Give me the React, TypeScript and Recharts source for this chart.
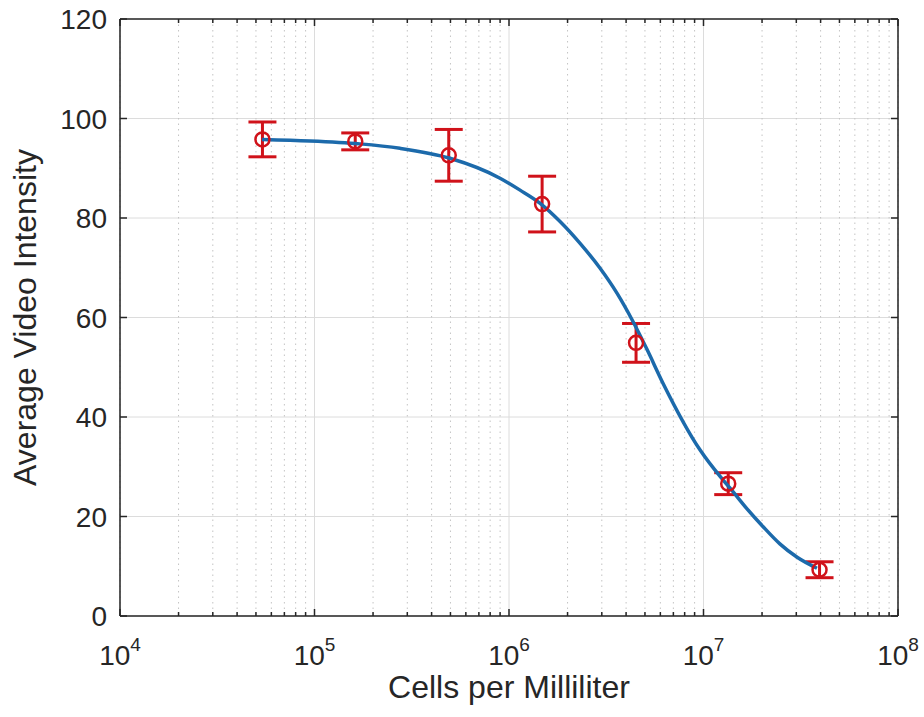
import React from "react";
import { CartesianGrid, ComposedChart, ErrorBar, Label, Line, Scatter, XAxis, YAxis } from "recharts";

// axis ticks
const xTicks = [1e4, 1e5, 1e6, 1e7, 1e8];
const minorSteps = [2, 3, 4, 5, 6, 7, 8, 9];
const xMinorTicks = xTicks.slice(0, -1).flatMap((decade) => minorSteps.map((m) => decade * m));
const yTicks = [0, 20, 40, 60, 80, 100, 120];

// measured points with error bars
const cellCounts = [5.4e4, 1.62e5, 4.9e5, 1.48e6, 4.5e6, 1.34e7, 3.95e7];
const meanIntensity = [95.8, 95.4, 92.6, 82.8, 54.9, 26.6, 9.3];
const intensityError = [3.5, 1.7, 5.2, 5.6, 3.9, 2.2, 1.6];

// fitted curve
const fitCells = [
  5.37e4, 9.48e4, 1.71e5, 2.75e5, 4.97e5, 8.99e5, 1.14e6, 1.44e6, 1.83e6, 2.32e6, 2.94e6, 3.59e6,
  4.34e6, 5.12e6, 6.19e6, 9.59e6, 1.22e7, 1.37e7, 1.67e7, 2.02e7, 2.47e7, 3.03e7, 3.83e7,
];
const fitIntensity = [
  95.8, 95.5, 94.9, 94.0, 92.0, 88.0, 85.6, 83.0, 79.3, 74.9, 69.9, 64.9,
  59.2, 53.6, 46.8, 33.4, 28.0, 25.7, 21.6, 18.0, 14.5, 11.8, 9.6,
];

const points = cellCounts.map((x, i) => ({ x, y: meanIntensity[i], err: intensityError[i] }));
const fit = fitCells.map((x, i) => ({ x, y: fitIntensity[i] }));

const FONT = "'Liberation Sans', Arial, Helvetica, sans-serif";
const AXIS = "#262626";
const TEXT = "#262626";
const RED = "#d0121a";
const BLUE = "#1c6aab";

// inward tick mark, MATLAB style
const tickLen = (len: number, dir: "up" | "down" | "left" | "right", shift = 0) => (props: any) => {
  const { x, y } = props;
  const dx = dir === "right" ? len : dir === "left" ? -len : 0;
  const dy = dir === "down" ? len : dir === "up" ? -len : 0;
  const sx = dir === "left" || dir === "right" ? shift : 0;
  const sy = dir === "up" || dir === "down" ? shift : 0;
  return <line x1={x + sx} y1={y + sy} x2={x + sx + dx} y2={y + sy + dy} stroke={AXIS} strokeWidth={1.5} />;
};

function BottomTick(props: any) {
  const { x, y, payload } = props;
  const exp = Math.round(Math.log10(payload.value));
  return (
    <g>
      <line x1={x} y1={y} x2={x} y2={y - 7} stroke={AXIS} strokeWidth={1.5} />
      <text x={x} y={y + 49} textAnchor="middle" fontSize={28} fontFamily={FONT} fill={TEXT}>
        10
        <tspan dy={-14} fontSize={19}>
          {exp}
        </tspan>
      </text>
    </g>
  );
}

function LeftTick(props: any) {
  const { x, y, payload } = props;
  return (
    <g>
      <line x1={x} y1={y} x2={x + 7} y2={y} stroke={AXIS} strokeWidth={1.5} />
      <text x={x - 13} y={y + 10} textAnchor="end" fontSize={28} fontFamily={FONT} fill={TEXT}>
        {payload.value}
      </text>
    </g>
  );
}

const axisCommon = {
  type: "number" as const,
  scale: "log" as const,
  domain: [1e4, 1e8],
  allowDataOverflow: true,
  dataKey: "x",
  tickSize: 0,
  tickMargin: 0,
  interval: 0 as const,
  height: 1,
};

const yCommon = {
  type: "number" as const,
  domain: [0, 120],
  allowDataOverflow: true,
  dataKey: "y",
  ticks: yTicks,
  interval: 0 as const,
  width: 1,
  tickSize: 0,
  tickMargin: 0,
};

export default function App() {
  // invisible series so the decoration axes (minor / top / right) get a scale
  const hidden = (xId: string) => (
    <Line
      key={xId}
      xAxisId={xId}
      yAxisId="yRight"
      data={fit}
      dataKey="y"
      stroke="none"
      strokeWidth={0}
      dot={false}
      activeDot={false}
      legendType="none"
      isAnimationActive={false}
    />
  );

  return (
    <div style={{ position: "absolute", left: 0, top: 0, background: "#fff" }}>
      <ComposedChart width={924} height={717} margin={{ top: 17, right: 25, bottom: 99, left: 119 }}>
        <CartesianGrid xAxisId="x" yAxisId="y" stroke="#dcdcdc" strokeWidth={1} />
        <CartesianGrid
          xAxisId="xMinor"
          yAxisId="y"
          horizontal={false}
          stroke="#c4c4c4"
          strokeWidth={1}
          strokeDasharray="1.5 4"
        />
        <XAxis {...axisCommon} xAxisId="x" ticks={xTicks} axisLine={{ stroke: AXIS, strokeWidth: 1.5 }} tick={BottomTick}>
          <Label
            value="Cells per Milliliter"
            position="bottom"
            offset={58}
            fontSize={32}
            fontFamily={FONT}
            fill={TEXT}
          />
        </XAxis>
        <XAxis {...axisCommon} xAxisId="xMinor" ticks={xMinorTicks} axisLine={false} tick={tickLen(4, "up", -1)} />
        <XAxis
          {...axisCommon}
          xAxisId="xTop"
          orientation="top"
          ticks={xTicks}
          axisLine={{ stroke: AXIS, strokeWidth: 1.5 }}
          tick={tickLen(7, "down")}
        />
        <XAxis
          {...axisCommon}
          xAxisId="xTopMinor"
          orientation="top"
          ticks={xMinorTicks}
          axisLine={false}
          tick={tickLen(4, "down", 1)}
        />
        <YAxis {...yCommon} yAxisId="y" axisLine={{ stroke: AXIS, strokeWidth: 1.5 }} tick={LeftTick}>
          <Label
            content={(props: any) => {
              const vb = props.viewBox;
              const cy = vb.y + vb.height / 2;
              return (
                <text
                  x={25}
                  y={cy}
                  transform={`rotate(-90 25 ${cy})`}
                  textAnchor="middle"
                  dominantBaseline="central"
                  fontSize={32}
                  fontFamily={FONT}
                  fill={TEXT}
                >
                  Average Video Intensity
                </text>
              );
            }}
          />
        </YAxis>
        <YAxis
          {...yCommon}
          yAxisId="yRight"
          orientation="right"
          axisLine={{ stroke: AXIS, strokeWidth: 1.5 }}
          tick={tickLen(7, "left")}
        />
        {hidden("xMinor")}
        {hidden("xTop")}
        {hidden("xTopMinor")}
        <Scatter
          xAxisId="x"
          yAxisId="y"
          data={points}
          isAnimationActive={false}
          shape={(p: any) => <circle cx={p.cx} cy={p.cy} r={7} fill="none" stroke={RED} strokeWidth={2.5} />}
        >
          <ErrorBar dataKey="err" direction="y" width={14} stroke={RED} strokeWidth={3} isAnimationActive={false} />
        </Scatter>
        <Line
          xAxisId="x"
          yAxisId="y"
          data={fit}
          dataKey="y"
          type="monotone"
          stroke={BLUE}
          strokeWidth={3.5}
          dot={false}
          activeDot={false}
          isAnimationActive={false}
        />
      </ComposedChart>
    </div>
  );
}
